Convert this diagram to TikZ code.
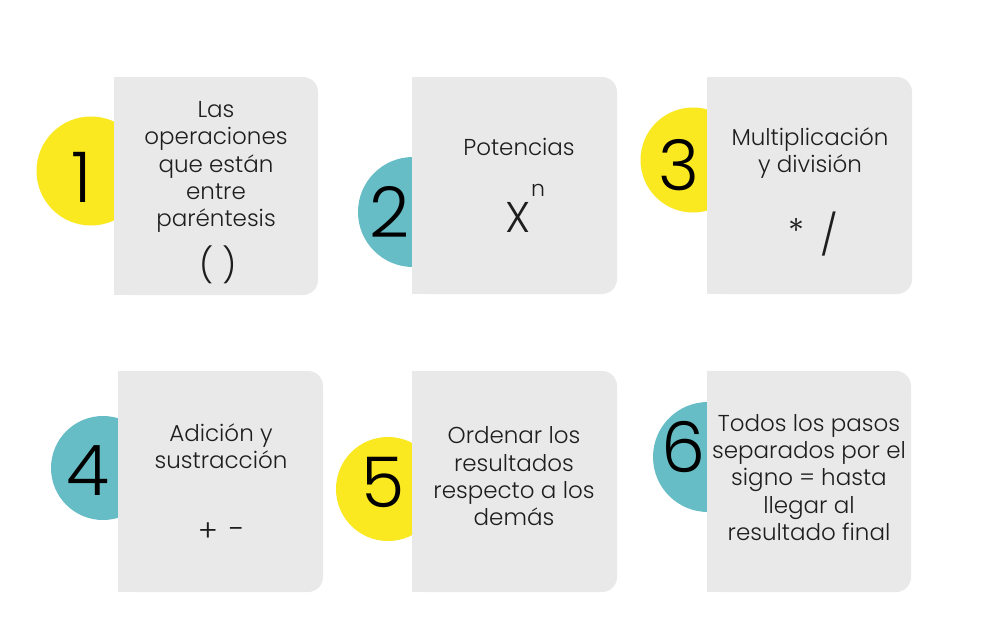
\documentclass[tikz,border=0pt]{standalone}
\usepackage{fontspec}
\IfFontExistsTF{Poppins Light}{\setmainfont{Poppins Light}}{\setmainfont{Poppins}}
\definecolor{amarillo}{HTML}{FAE820}
\definecolor{turquesa}{HTML}{66BDC5}
\definecolor{gris}{HTML}{E9E9E9}
\definecolor{tinta}{HTML}{1E1E1E}
\tikzset{
	tarjeta/.style={fill=gris, rounded corners=15pt, inner sep=0pt, minimum width=205pt},
	disco/.style={circle, inner sep=0pt, minimum size=#1},
	numero/.style={inner sep=0pt, text=black, font=\fontsize{70}{70}\selectfont},
	texto/.style={inner sep=0pt, align=center, text=tinta, font=\fontsize{23}{27.3}\selectfont},
	signo/.style={inner sep=0pt, text=tinta, font=\fontsize{#1}{#1}\selectfont}
}

\begin{document}
\begin{tikzpicture}[x=1pt, y=-1pt]
			%%%%% START %%%%%
			\useasboundingbox[fill=white] (0, 0) rectangle (1000, 618);
			
			\node[disco=109pt, fill=amarillo] (disco1) at (91, 171) {};
			\node[disco=110pt, fill=turquesa] (disco2) at (413, 212) {};
			\node[disco=105pt, fill=amarillo] (disco3) at (693, 160) {};
			\node[disco=104pt, fill=turquesa] (disco4) at (103, 468) {};
			\node[disco=104pt, fill=amarillo] (disco5) at (388, 489) {};
			\node[disco=110pt, fill=turquesa] (disco6) at (708, 457) {};
			
			\node[tarjeta, minimum width=204pt, minimum height=218pt] (tarjeta1) at (216, 186) {};
			\fill[gris] (tarjeta1.north west) rectangle (tarjeta1.south);
			\node[tarjeta, minimum height=217pt] (tarjeta2) at (514.5, 185.5) {};
			\fill[gris] (tarjeta2.north west) rectangle (tarjeta2.south);
			\node[tarjeta, minimum height=217pt] (tarjeta3) at (809.5, 185.5) {};
			\fill[gris] (tarjeta3.north west) rectangle (tarjeta3.south);
			\node[tarjeta, minimum height=221pt] (tarjeta4) at (220.5, 481.5) {};
			\fill[gris] (tarjeta4.north west) rectangle (tarjeta4.south);
			\node[tarjeta, minimum height=221pt] (tarjeta5) at (514.5, 481.5) {};
			\fill[gris] (tarjeta5.north west) rectangle (tarjeta5.south);
			\node[tarjeta, minimum width=204pt, minimum height=221pt] (tarjeta6) at (809, 481.5) {};
			\fill[gris] (tarjeta6.north west) rectangle (tarjeta6.south);
			
			\node[numero] (num1) at (82, 177.5) {1};
			\node[numero] (num2) at (389.5, 211.5) {2};
			\node[numero] (num3) at (678.5, 165) {3};
			\node[numero] (num4) at (87.5, 470.5) {4};
			\node[numero] (num5) at (383, 482) {5};
			\node[numero] (num6) at (684, 447.5) {6};
			
			\node[texto] (texto1) at (216, 167) {Las\\operaciones\\que están\\entre\\paréntesis};
			\node[signo=34] (parentesis) at (218, 265) {( )};
			
			\node[texto] (texto2) at (519, 147) {Potencias};
			\node[signo=43] (equis) at (518, 217) {X};
			\node[signo=22] (exponente) at (538, 190.5) {n};
			
			\node[texto] (texto3) at (810, 153) {Multiplicación\\y división};
			\node[signo=34] (por) at (796, 231) {*};
			\node[signo=40] (entre) at (829, 234) {/};
			
			\node[texto] (texto4) at (221, 446) {Adición y\\sustracción};
			\node[signo=30] (mas) at (208, 532) {+};
			\node[signo=30] (menos) at (237, 533) {-};
			
			\node[texto] (texto5) at (514, 476.5) {Ordenar los\\resultados\\respecto a los\\demás};
			
			\node[texto] (texto6) at (809, 477.5) {Todos los pasos\\separados por el\\signo = hasta\\llegar al\\resultado final};
			%%%%% END %%%%%
\end{tikzpicture}
\end{document}
